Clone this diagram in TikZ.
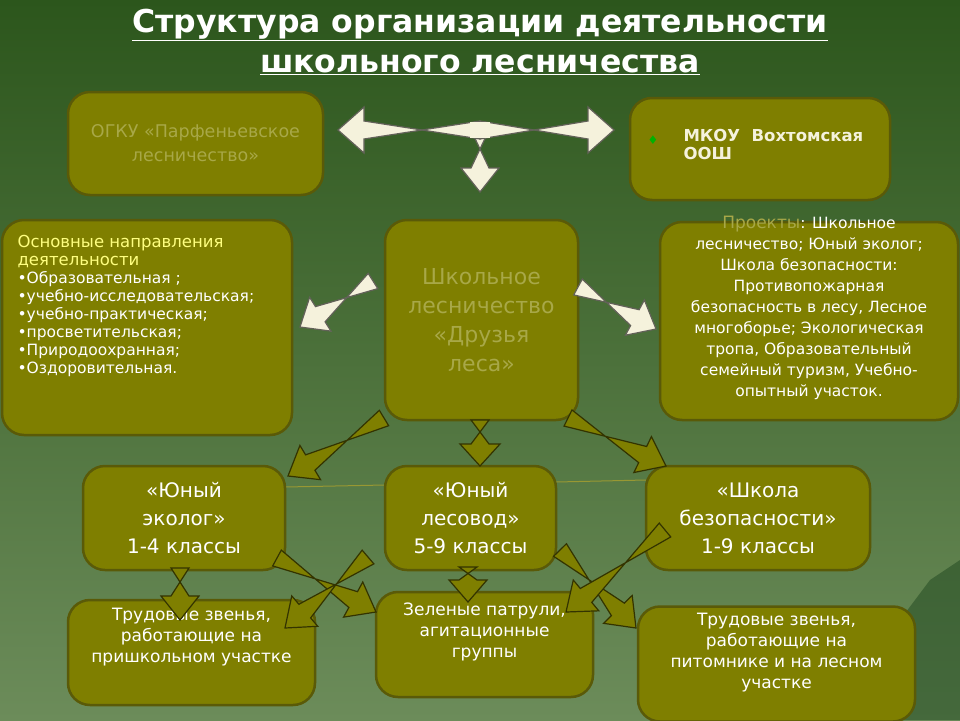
\documentclass[tikz,border=0pt]{standalone}
\usepackage{fontspec}
\setmainfont{DejaVu Sans}
\usetikzlibrary{calc}
\definecolor{olive1}{HTML}{7F7F00}
\definecolor{olived}{HTML}{5A5A08}
\definecolor{cream}{HTML}{F5F2DC}
\definecolor{faint}{HTML}{A8A848}
\definecolor{yel}{HTML}{FFFF80}
\definecolor{bgtop}{HTML}{2C561C}
\definecolor{bgbot}{HTML}{6C8C5A}
\tikzset{
 box/.style={draw=olived,line width=2.5pt,fill=olive1,rounded corners=22pt,inner sep=2pt,align=center},
 wtxt/.style={text=white},
}
\newcommand{\barrow}[6]{% from, to, shaft half, head half, head len, fill
 \filldraw[draw=#6!40!black,fill=#6,line width=1.2pt,line join=miter]
  ($(#1)!#3pt!-90:(#2)$) -- ($($(#2)!#5pt!(#1)$)!#3pt!90:(#2)$) -- ($($(#2)!#5pt!(#1)$)!#4pt!90:(#2)$) -- (#2)
  -- ($($(#2)!#5pt!(#1)$)!#4pt!-90:(#2)$) -- ($($(#2)!#5pt!(#1)$)!#3pt!-90:(#2)$) -- ($(#1)!#3pt!90:(#2)$) -- cycle;}
\begin{document}
\begin{tikzpicture}[x=1pt,y=-1pt]
\shade[top color=bgtop,bottom color=bgbot] (0,0) rectangle (960,720);
\useasboundingbox (0,0) rectangle (960,720);
\fill[gray!60!green!40!black,opacity=0.5] (790,720) -- (830,640) -- (870,660) -- (930,580) -- (960,560) -- (960,720) -- cycle;
% title
\node[text=white,font=\bfseries\fontsize{31.5}{40}\selectfont,align=center] (title) at (480,42) {\underline{Структура организации деятельности}\\\underline{школьного лесничества}};
% boxes
\node[box,minimum width=255,minimum height=103,text=faint,font=\fontsize{17.5}{24}\selectfont] (ogku) at (195.5,143.5) {ОГКУ «Парфеньевское\\лесничество»};
\node[box,minimum width=260,minimum height=102] (mkou) at (760,149) {};
\node[text=green!70!black,font=\fontsize{12}{14}\selectfont] (dia) at (653,140) {♦};
\node[anchor=north west,align=left,text=cream,font=\bfseries\fontsize{16.5}{18}\selectfont] (mk) at (680,126) {МКОУ\ \ Вохтомская\\ООШ};
\node[box,minimum width=290,minimum height=215] (osn) at (147,327.5) {};
\node[anchor=north west,align=left,font=\fontsize{15.5}{18}\selectfont,text=white] (osnt) at (14,232) {\textcolor{yel}{\fontsize{16.5}{21}\selectfont Основные направления}\\\textcolor{yel}{\fontsize{16.5}{21}\selectfont деятельности}\\
•Образовательная ;\\•учебно-исследовательская;\\•учебно-практическая;\\•просветительская;\\•Природоохранная;\\•Оздоровительная.};
\node[box,minimum width=193,minimum height=200,text=faint,font=\fontsize{22}{29}\selectfont] (shk) at (481.5,320) {Школьное\\лесничество\\«Друзья\\леса»};
\node[box,minimum width=298,minimum height=198] (proj) at (809,321) {};
\node[align=center,text=white,font=\fontsize{15.5}{21}\selectfont] (projt) at (809,308) {\textcolor{faint}{\fontsize{17}{20}\selectfont Проекты}: Школьное\\лесничество; Юный эколог;\\Школа безопасности:\\Противопожарная\\безопасность в лесу, Лесное\\многоборье; Экологическая\\тропа, Образовательный\\семейный туризм, Учебно-\\опытный участок.};
\draw[olive1!80!white,line width=1pt] (285,487) -- (385,485);
\draw[olive1!80!white,line width=1pt] (556,482) -- (646,480);
\node[box,wtxt,minimum width=202,minimum height=104,font=\fontsize{20}{28}\selectfont] (ue) at (184,518) {«Юный\\эколог»\\1-4 классы};
\node[box,wtxt,minimum width=171,minimum height=104,font=\fontsize{20}{28}\selectfont] (ul) at (470.5,518) {«Юный\\лесовод»\\5-9 классы};
\node[box,wtxt,minimum width=224,minimum height=104,font=\fontsize{20}{28}\selectfont] (sb) at (758,518) {«Школа\\безопасности»\\1-9 классы};
\node[box,wtxt,minimum width=247,minimum height=105,font=\fontsize{17}{21}\selectfont] (b1) at (191.5,652.5) {Трудовые звенья,\\работающие на\\пришкольном участке\\[14pt]};
\node[box,wtxt,minimum width=217,minimum height=105,font=\fontsize{17}{21}\selectfont] (b2) at (484.5,644.5) {Зеленые патрули,\\агитационные\\группы\\[8pt]};
\node[box,wtxt,minimum width=277,minimum height=115,font=\fontsize{17}{21}\selectfont] (b3) at (776.5,664) {Трудовые звенья,\\работающие на\\питомнике и на лесном\\участке\\[6pt]};
% arrow coordinates
\coordinate (wl) at (338,130); \coordinate (wr) at (614,130);
\coordinate (wm) at (480,130); \coordinate (wd) at (480,192);
\coordinate (sl0) at (373,281); \coordinate (sl1) at (300,327);
\coordinate (sr0) at (578,287); \coordinate (sr1) at (656,329);
\coordinate (o1a) at (384,418); \coordinate (o1b) at (288,476);
\coordinate (o2a) at (480,420); \coordinate (o2b) at (480,466);
\coordinate (o3a) at (568,418); \coordinate (o3b) at (666,466);
\coordinate (p1a) at (180,568); \coordinate (p1b) at (180,620);
\coordinate (p2a) at (277,558); \coordinate (p2b) at (376,612);
\coordinate (p3a) at (368,557); \coordinate (p3b) at (285,628);
\coordinate (p4a) at (468,567); \coordinate (p4b) at (468,602);
\coordinate (p5a) at (560,550); \coordinate (p5b) at (636,628);
\coordinate (p6a) at (665,530); \coordinate (p6b) at (566,612);
% white arrows
\barrow{wm}{wd}{9}{19}{24}{cream}
\barrow{wm}{wr}{9}{23}{26}{cream}
\barrow{wm}{wl}{9}{23}{26}{cream}
\fill[cream] (470,122) rectangle (490,138);
\barrow{sl0}{sl1}{9}{20}{24}{cream}
\barrow{sr0}{sr1}{9}{20}{24}{cream}
% olive arrows
\barrow{o1a}{o1b}{9}{20}{26}{olive1}
\barrow{o2a}{o2b}{9}{20}{22}{olive1}
\barrow{o3a}{o3b}{9}{20}{26}{olive1}
\barrow{p1a}{p1b}{9}{19}{24}{olive1}
\barrow{p2a}{p2b}{9}{20}{26}{olive1}
\barrow{p3a}{p3b}{9}{20}{26}{olive1}
\barrow{p4a}{p4b}{9}{19}{22}{olive1}
\barrow{p5a}{p5b}{9}{20}{26}{olive1}
\barrow{p6a}{p6b}{9}{20}{26}{olive1}
\end{tikzpicture}
\end{document}
